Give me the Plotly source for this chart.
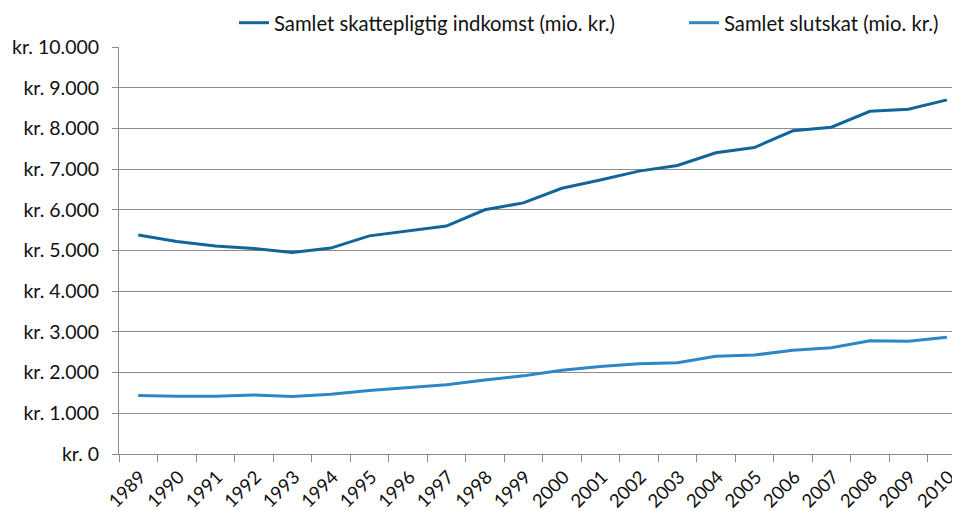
import plotly.graph_objects as go

years = [str(y) for y in range(1989, 2011)]
indkomst = [5380, 5220, 5110, 5050, 4950, 5060, 5360, 5480, 5600, 6000, 6170,
            6530, 6730, 6950, 7090, 7400, 7530, 7940, 8030, 8420, 8470, 8700]
slutskat = [1440, 1420, 1420, 1450, 1410, 1470, 1560, 1630, 1700, 1820, 1920,
            2060, 2150, 2220, 2240, 2400, 2430, 2550, 2610, 2780, 2770, 2870]
y_ticks = [0, 1000, 2000, 3000, 4000, 5000, 6000, 7000, 8000, 9000, 10000]
y_labels = ["kr. 0", "kr. 1.000", "kr. 2.000", "kr. 3.000", "kr. 4.000", "kr. 5.000",
            "kr. 6.000", "kr. 7.000", "kr. 8.000", "kr. 9.000", "kr. 10.000"]
names = ["Samlet skattepligtig indkomst (mio. kr.)", "Samlet slutskat (mio. kr.)"]
colors = ["#12659a", "#2e87c5"]
legend_ids = ["legend", "legend2"]

fig = go.Figure()
for vals, name, col, lg in zip([indkomst, slutskat], names, colors, legend_ids):
    fig.add_trace(go.Scatter(x=years, y=vals, name=name, mode="lines",
                             line=dict(color=col, width=3), legend=lg))

axis_col = "#8c8c8c"
txt_col = "#111111"
leg_common = dict(orientation="h", xref="container", yref="container",
                  xanchor="left", y=1 - 15 / 511, yanchor="middle",
                  font=dict(size=20.3, family="Lato", color=txt_col),
                  bgcolor="rgba(0,0,0,0)", itemwidth=30)
fig.update_layout(
    width=960, height=511,
    margin=dict(l=111, r=8, t=39, b=65, autoexpand=False),
    paper_bgcolor="white", plot_bgcolor="white",
    font=dict(family="Lato", color=txt_col),
    showlegend=True,
    legend=dict(x=226 / 960, **leg_common),
    legend2=dict(x=676 / 960, **leg_common),
    xaxis=dict(type="category", range=[-0.5, 21.34], tickson="boundaries",
               ticks="outside", ticklen=7, tickcolor=axis_col, tickwidth=1,
               showline=True, linecolor=axis_col, linewidth=1,
               showgrid=False, tickangle=-45, automargin=False,
               ticklabelstandoff=4, ticklabelshift=2,
               tickfont=dict(size=18.5, family="Lato", color=txt_col)),
    yaxis=dict(range=[0, 10000], tickvals=y_ticks, ticktext=y_labels,
               ticks="outside", ticklen=6, tickcolor=axis_col,
               showline=True, linecolor=axis_col, linewidth=1,
               showgrid=True, gridcolor=axis_col, gridwidth=1,
               zeroline=False, automargin=False, ticklabelstandoff=9,
               tickfont=dict(size=19.5, family="Lato", color=txt_col)),
)

fig.write_html("out.html")
